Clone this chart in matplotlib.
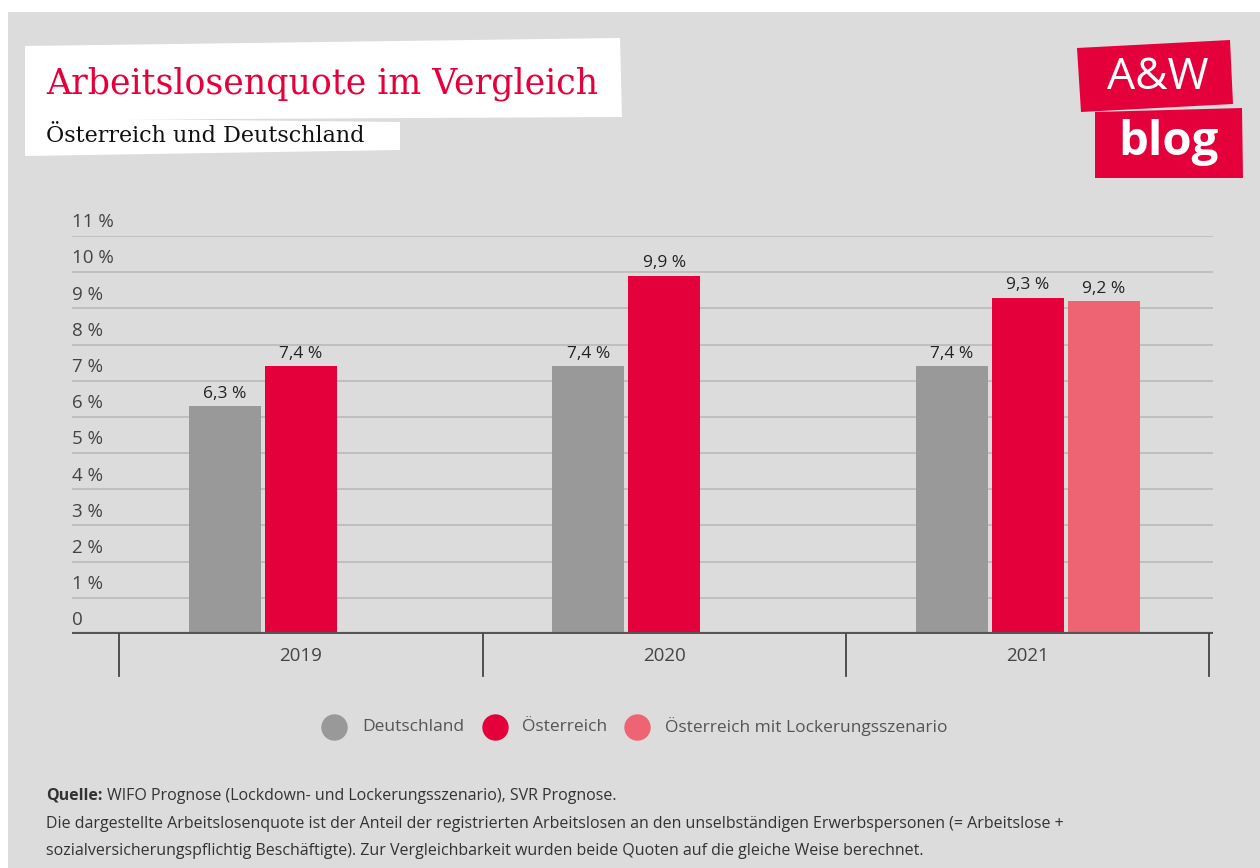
import matplotlib.pyplot as plt
from matplotlib.patches import Polygon
from matplotlib.lines import Line2D
import numpy as np

# data
years = ['2019', '2020', '2021']
deutschland = [6.3, 7.4, 7.4]
oesterreich = [7.4, 9.9, 9.3]
lockerung = [None, None, 9.2]
series_names = ['Deutschland', 'Österreich', 'Österreich mit Lockerungsszenario']
yticks = list(range(0, 12))
ytick_labels = ['0'] + ['{} %'.format(v) for v in range(1, 12)]

c_grey = '#999999'
c_red = '#e4003a'
c_light = '#ee6473'
bg = '#dcdcdc'
font = 'Open Sans'

fig = plt.figure(figsize=(12.6, 8.68), dpi=100)
fig.patch.set_facecolor('white')
# grey card behind everything
fig.patches.append(Polygon([[8/1260, 0], [1, 0], [1, 1-12/868], [8/1260, 1-12/868]],
                           closed=True, transform=fig.transFigure, facecolor=bg, edgecolor='none', zorder=-5))

ax = fig.add_axes([72/1260, 1-634/868, 1141/1260, 398/868])
ax.patch.set_alpha(0)
for s in ax.spines.values():
    s.set_visible(False)
ax.set_xlim(-0.63, 2.51)
ax.set_ylim(0, 11)
ax.set_xticks([])
ax.set_yticks([])

x = np.arange(len(years))
w = 0.198
off = 0.209
for v in yticks[1:]:
    ax.axhline(v, color='#bcbcbc', lw=1.3, zorder=1)
ax.bar(x - off, deutschland, w, color=c_grey, zorder=2)
ax.bar(x, oesterreich, w, color=c_red, zorder=2)
lx = [i + off for i, v in enumerate(lockerung) if v is not None]
lv = [v for v in lockerung if v is not None]
ax.bar(lx, lv, w, color=c_light, zorder=2)
ax.axhline(0, color='#555555', lw=3, zorder=3)

def fmt(v):
    return '{:.1f} %'.format(v).replace('.', ',')

for xs, vals in [(x - off, deutschland), (x, oesterreich), (lx, lv)]:
    for xi, v in zip(xs, vals):
        ax.text(xi, v + 0.12, fmt(v), ha='center', va='bottom', fontsize=12.5, color='#222222', family=font)

for v, lab in zip(yticks, ytick_labels):
    ax.text(0.0, v + 0.13, lab, transform=ax.get_yaxis_transform(), ha='left', va='bottom',
            fontsize=13.5, color='#444444', family=font)

# category separators and labels
for b in np.arange(-0.5, len(years)):
    ax.plot([b, b], [0, -1.15], color='#444444', lw=1.3, clip_on=False, zorder=3)
for xi, yr in zip(x, years):
    ax.text(xi, -0.6, yr, ha='center', va='center', fontsize=13.5, color='#444444', family=font)

# legend
leg_y = 1 - 727/868
for cx, tx, col, name in [(334, 362, c_grey, series_names[0]), (495, 522, c_red, series_names[1]),
                          (637, 665, c_light, series_names[2])]:
    fig.add_artist(Line2D([cx/1260], [leg_y], marker='o', markersize=18, color=col, lw=0))
    fig.text(tx/1260, leg_y, name, ha='left', va='center', fontsize=12.5, color='#555555', family=font)

# title boxes
fig.patches.append(Polygon([[25/1260, 1-46/868], [620/1260, 1-38/868], [622/1260, 1-117/868], [25/1260, 1-120/868]],
                           closed=True, transform=fig.transFigure, facecolor='white', edgecolor='none', zorder=1))
fig.patches.append(Polygon([[25/1260, 1-118/868], [400/1260, 1-122/868], [400/1260, 1-150/868], [25/1260, 1-156/868]],
                           closed=True, transform=fig.transFigure, facecolor='white', edgecolor='none', zorder=1))
fig.text(46/1260, 1-84/868, 'Arbeitslosenquote im Vergleich', ha='left', va='center', fontsize=25,
         color=c_red, family='DejaVu Serif', zorder=2)
fig.text(46/1260, 1-136/868, 'Österreich und Deutschland', ha='left', va='center', fontsize=16,
         color='#111111', family='DejaVu Serif', zorder=2)

# logo
fig.patches.append(Polygon([[1077/1260, 1-48/868], [1230/1260, 1-40/868], [1233/1260, 1-104/868], [1081/1260, 1-112/868]],
                           closed=True, transform=fig.transFigure, facecolor=c_red, edgecolor='none', zorder=1))
fig.patches.append(Polygon([[1095/1260, 1-112/868], [1242/1260, 1-108/868], [1243/1260, 1-178/868], [1095/1260, 1-178/868]],
                           closed=True, transform=fig.transFigure, facecolor=c_red, edgecolor='none', zorder=1))
fig.text(1158/1260, 1-78/868, 'A&W', ha='center', va='center', fontsize=32, color='white', family=font, zorder=2)
fig.text(1168/1260, 1-143/868, 'blog', ha='center', va='center', fontsize=34, color='white',
         family=font, weight='bold', zorder=2)

# footnote
fig.text(46/1260, 1-796/868, 'Quelle:', ha='left', va='center', fontsize=11.5, color='#333333',
         family=font, weight='bold')
fig.text(107/1260, 1-796/868, 'WIFO Prognose (Lockdown- und Lockerungsszenario), SVR Prognose.',
         ha='left', va='center', fontsize=11.5, color='#333333', family=font)
fig.text(46/1260, 1-824/868, 'Die dargestellte Arbeitslosenquote ist der Anteil der registrierten Arbeitslosen an den '
         'unselbständigen Erwerbspersonen (= Arbeitslose +', ha='left', va='center', fontsize=11.5, color='#333333', family=font)
fig.text(46/1260, 1-851/868, 'sozialversicherungspflichtig Beschäftigte). Zur Vergleichbarkeit wurden beide Quoten '
         'auf die gleiche Weise berechnet.', ha='left', va='center', fontsize=11.5, color='#333333', family=font)

fig.savefig('out.png', dpi=100, facecolor=fig.get_facecolor())
